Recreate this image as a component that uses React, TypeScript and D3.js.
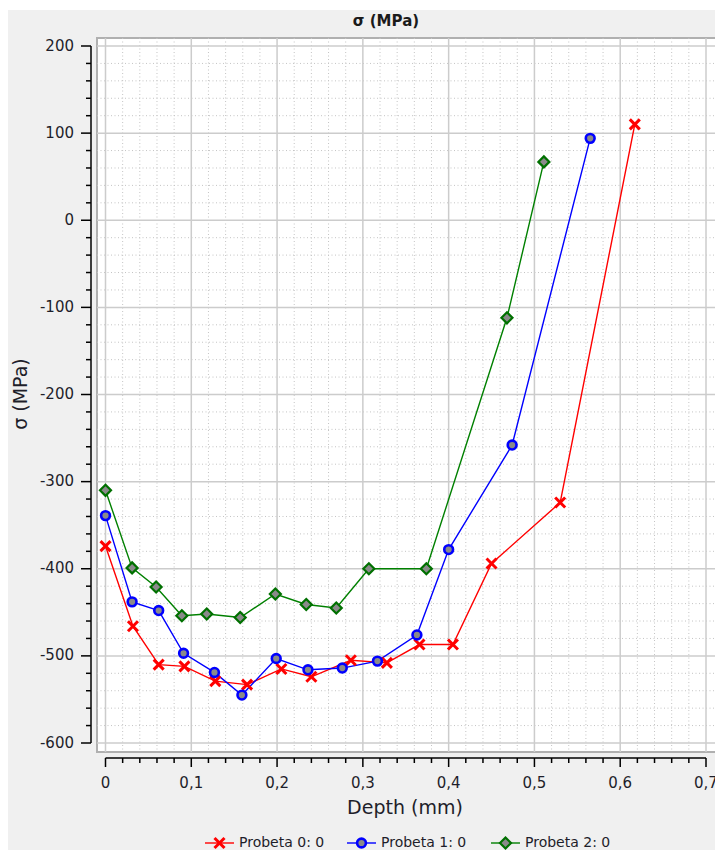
import React from "react";
import * as d3 from "d3";

const depth0 = [0, 0.032, 0.062, 0.092, 0.128, 0.165, 0.205, 0.24, 0.286, 0.328, 0.366, 0.405, 0.45, 0.53, 0.617];
const sigma0 = [-374, -466, -510, -512, -529, -533, -515, -524, -505, -508, -487, -487, -394, -324, 110];
const depth1 = [0, 0.031, 0.062, 0.091, 0.127, 0.159, 0.199, 0.236, 0.276, 0.317, 0.363, 0.4, 0.474, 0.565];
const sigma1 = [-339, -438, -448, -497, -519, -545, -503, -516, -514, -506, -476, -378, -258, 94];
const depth2 = [0, 0.031, 0.059, 0.089, 0.118, 0.157, 0.198, 0.234, 0.269, 0.307, 0.374, 0.468, 0.511];
const sigma2 = [-310, -399, -421, -454, -452, -456, -429, -441, -445, -400, -400, -112, 67];

const seriesNames = ["Probeta 0: 0", "Probeta 1: 0", "Probeta 2: 0"];
const xTicks = [0, 0.1, 0.2, 0.3, 0.4, 0.5, 0.6, 0.7];
const yTicks = [200, 100, 0, -100, -200, -300, -400, -500, -600];

const FONT = "'DejaVu Sans', Verdana, sans-serif";

function Marker({ kind, x, y }: { kind: number; x: number; y: number }) {
  if (kind === 0) {
    const s = 5;
    return (
      <g stroke="#ff0000" strokeWidth={3} strokeLinecap="butt">
        <line x1={x - s} y1={y - s} x2={x + s} y2={y + s} />
        <line x1={x - s} y1={y + s} x2={x + s} y2={y - s} />
      </g>
    );
  }
  if (kind === 1) {
    return <circle cx={x} cy={y} r={4.4} fill="#8a8a8a" stroke="#0000ff" strokeWidth={2.6} />;
  }
  const s = 5.5;
  return (
    <path
      d={`M${x},${y - s}L${x + s},${y}L${x},${y + s}L${x - s},${y}Z`}
      fill="#8a8a8a"
      stroke="#007000"
      strokeWidth={2.2}
    />
  );
}

export default function App() {
  const x = d3.scaleLinear().domain([0, 0.7]).range([105.5, 706]);
  const y = d3.scaleLinear().domain([-600, 200]).range([743, 46]);
  const colors = ["#ff0000", "#0000ff", "#008000"];
  const series = [
    { d: depth0, s: sigma0 },
    { d: depth1, s: sigma1 },
    { d: depth2, s: sigma2 },
  ];
  const line = d3
    .line<[number, number]>()
    .x((p) => x(p[0]))
    .y((p) => y(p[1]));

  const minorX = d3.range(0, 36).map((i) => i * 0.02).filter((v) => Math.abs((v * 50) % 5) > 0.01 && v < 0.75);
  const minorY = d3.range(-600, 221, 20).filter((v) => v % 100 !== 0);
  const fmt = (v: number) => (v === 0 ? "0" : d3.format(".1f")(v).replace(".", ","));

  const plotL = 97, plotT = 38, plotR = 716, plotB = 752;
  const legendItems = [
    { lx: 205, tx: 239 },
    { lx: 347, tx: 381 },
    { lx: 491, tx: 525 },
  ];

  return (
    <svg width={715} height={853} style={{ position: "absolute", left: 0, top: 0 }} fontFamily={FONT}>
      <rect x={0} y={0} width={715} height={853} fill="#ffffff" />
      <rect x={8} y={10} width={707} height={840} fill="#f0f0f0" />
      <text x={386} y={21} textAnchor="middle" dominantBaseline="middle" fontSize={15} fontWeight="bold" fill="#1a1a1a">
        σ (MPa)
      </text>
      <defs>
        <clipPath id="plotclip">
          <rect x={plotL} y={plotT} width={plotR - plotL} height={plotB - plotT} />
        </clipPath>
      </defs>
      <rect x={plotL} y={plotT} width={plotR - plotL} height={plotB - plotT} fill="#ffffff" stroke="#b0b0b0" strokeWidth={2} />
      <g clipPath="url(#plotclip)">
        {minorX.map((v) => (
          <line key={"mx" + v} x1={x(v)} x2={x(v)} y1={plotT} y2={plotB} stroke="#c4c4c4" strokeWidth={1} strokeDasharray="1,2.5" />
        ))}
        {minorY.map((v) => (
          <line key={"my" + v} x1={plotL} x2={plotR} y1={y(v)} y2={y(v)} stroke="#c4c4c4" strokeWidth={1} strokeDasharray="1,2.5" />
        ))}
        {xTicks.map((v) => (
          <line key={"gx" + v} x1={x(v)} x2={x(v)} y1={plotT} y2={plotB} stroke="#cccccc" strokeWidth={1.5} />
        ))}
        {yTicks.map((v) => (
          <line key={"gy" + v} x1={plotL} x2={plotR} y1={y(v)} y2={y(v)} stroke="#cccccc" strokeWidth={1.5} />
        ))}
        {series.map((sr, i) => {
          const pts = sr.d.map((d, j) => [d, sr.s[j]] as [number, number]);
          return <path key={"l" + i} d={line(pts) || ""} fill="none" stroke={colors[i]} strokeWidth={1.4} />;
        })}
        {series.map((sr, i) =>
          sr.d.map((d, j) => <Marker key={"m" + i + "-" + j} kind={i} x={x(d)} y={y(sr.s[j])} />)
        )}
      </g>
      {/* Y axis */}
      <g stroke="#000" strokeWidth={1.5}>
        <line x1={91} x2={91} y1={y(200)} y2={y(-600)} />
        {yTicks.map((v) => (
          <line key={"yt" + v} x1={81} x2={91} y1={y(v)} y2={y(v)} />
        ))}
        {minorY.filter((v) => v <= 200).map((v) => (
          <line key={"ymt" + v} x1={86} x2={91} y1={y(v)} y2={y(v)} />
        ))}
      </g>
      {yTicks.map((v) => (
        <text key={"yl" + v} x={74} y={y(v)} textAnchor="end" dominantBaseline="middle" fontSize={15} fill="#1e1e2a">
          {v}
        </text>
      ))}
      {/* X axis */}
      <g stroke="#000" strokeWidth={1.5}>
        <line x1={x(0)} x2={x(0.7)} y1={758} y2={758} />
        {xTicks.map((v) => (
          <line key={"xt" + v} x1={x(v)} x2={x(v)} y1={758} y2={767} />
        ))}
        {minorX.filter((v) => v <= 0.7).map((v) => (
          <line key={"xmt" + v} x1={x(v)} x2={x(v)} y1={758} y2={763} />
        ))}
      </g>
      {xTicks.map((v) => (
        <text key={"xl" + v} x={x(v)} y={783} textAnchor="middle" dominantBaseline="middle" fontSize={15} fill="#1e1e2a">
          {fmt(v)}
        </text>
      ))}
      <text x={405} y={808} textAnchor="middle" dominantBaseline="middle" fontSize={19} fill="#1e1e2a">
        Depth (mm)
      </text>
      <text
        transform="translate(21,394) rotate(-90)"
        textAnchor="middle"
        dominantBaseline="middle"
        fontSize={19}
        fill="#1e1e2a"
      >
        σ (MPa)
      </text>
      {/* Legend */}
      {legendItems.map((it, i) => (
        <g key={"lg" + i}>
          <line x1={it.lx} x2={it.lx + 29} y1={843} y2={843} stroke={colors[i]} strokeWidth={1.4} />
          <Marker kind={i} x={it.lx + 14.5} y={843} />
          <text x={it.tx} y={843} dominantBaseline="middle" fontSize={14} fill="#1e1e2a">
            {seriesNames[i]}
          </text>
        </g>
      ))}
    </svg>
  );
}
